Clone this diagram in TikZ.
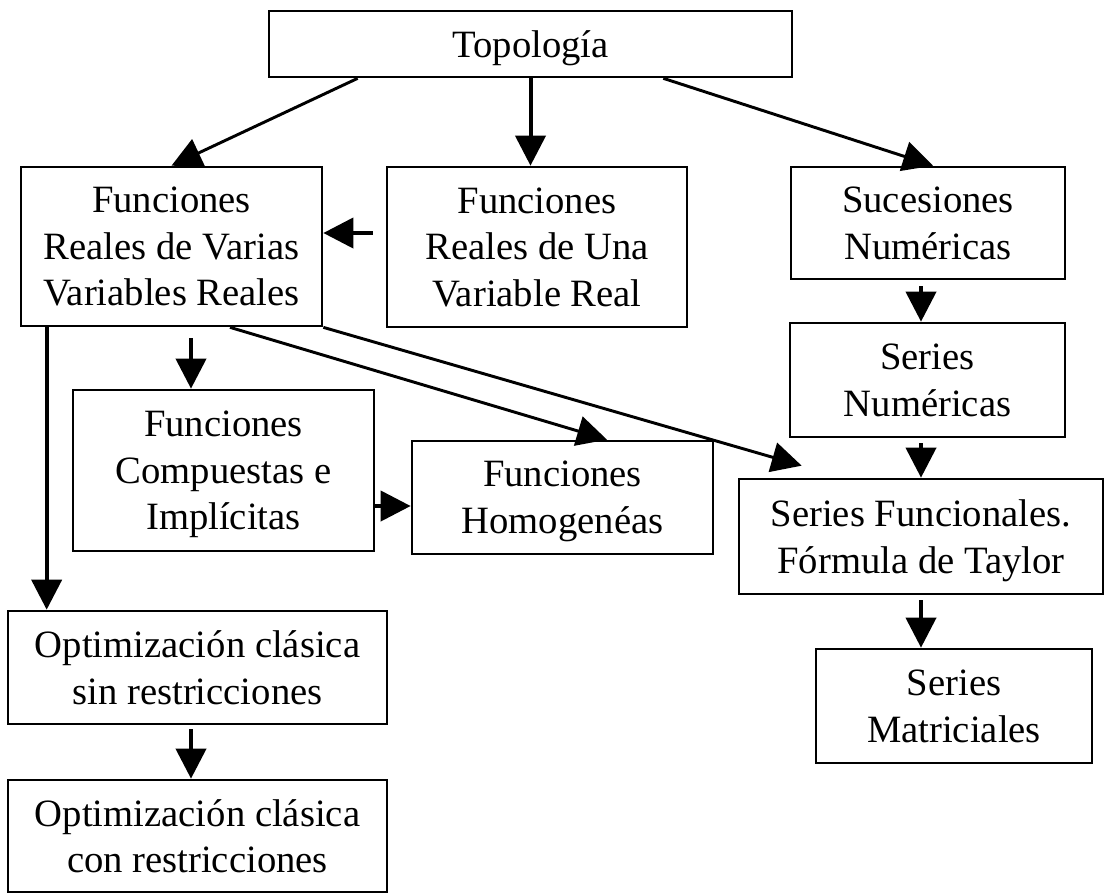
\documentclass[tikz,border=0pt]{standalone}
\usepackage{fontspec}
\setmainfont{Liberation Serif}
\usetikzlibrary{arrows.meta,calc}
\begin{document}
\begin{tikzpicture}[x=0.75pt,y=-0.75pt,
  bx/.style 2 args={draw=black, line width=2pt, rectangle, inner sep=0pt,
    minimum width=#1*0.75pt, minimum height=#2*0.75pt, align=center,
    text depth=0pt, font=\fontsize{29pt}{35pt}\selectfont},
  arrs/.style={line width=3pt, -{Triangle[length=22.5pt,width=22.5pt]}},
  arrd/.style={line width=2.2pt, -{Triangle[length=22.5pt,width=22.5pt]}}]
\useasboundingbox (0,0) rectangle (1109,894);
\fill[white] (0,0) rectangle (1109,894);
% nodes
\node[bx={523}{66}]  (T)  at (530.5,44)   {Topología};
\node[bx={301}{159}] (FV) at (171.5,246.5) {Funciones\\Reales de Varias\\Variables Reales};
\node[bx={300}{160}] (FU) at (537,247)    {Funciones\\Reales de Una\\Variable Real};
\node[bx={274}{112}] (SU) at (928,223)    {Sucesiones\\Numéricas};
\node[bx={275}{114}] (SN) at (927.5,380)  {Series\\Numéricas};
\node[bx={364}{115}] (SF) at (921,536.5)  {Series Funcionales.\\Fórmula de Taylor};
\node[bx={276}{114}] (SM) at (954,706)    {Series\\Matriciales};
\node[bx={301}{161}] (FC) at (223.5,470.5) {Funciones\\Compuestas e\\Implícitas};
\node[bx={301}{113}] (FH) at (562.5,497.5) {Funciones\\Homogenéas};
\node[bx={379}{113}] (OS) at (197.5,667.5) {Optimización clásica\\sin restricciones};
\node[bx={379}{112}] (OC) at (197.5,836)   {Optimización clásica\\con restricciones};
% helper coordinates
\coordinate (a1) at ($(FV.south)+(19.5,0)$);
\coordinate (a2) at ($(FV.south west)+(27,0)$);
\coordinate (a3) at ($(FC.east)+(0,35.5)$);
\coordinate (a4) at ($(OS.south)+(-6.5,0)$);
\coordinate (sfin) at ($(SF.north west)+(64,-12)$);
% connectors
\draw[arrd] ($(T.south west)+(90,0)$) -- (FV.north);
\draw[arrs] (T.south) -- (T.south |- FU.north);
\draw[arrd] ($(T.south east)+(-130,0)$) -- ($(SU.north)+(5,0)$);
\draw[arrs] ($(FU.west)+(-13,-14)$) -- ($(FV.east)+(0,-13.5)$);
\draw[arrs, shorten <=4.5pt] (SU.south -| SF.north) -- (SN.north -| SF.north);
\draw[arrs, shorten <=3.75pt] (SN.south -| SF.north) -- (SF.north);
\draw[arrs, shorten <=3.75pt] (SF.south) -- (SF.south |- SM.north);
\draw[arrs, shorten <=8.25pt] (a1) -- (a1 |- FC.north);
\draw[arrs] (a2) -- (a2 |- OS.north);
\draw[arrd] ($(FV.south)+(58.5,0)$) -- ($(FH.north)+(44.5,0)$);
\draw[arrd] (FV.south east) -- (sfin);
\draw[arrs] (a3) -- (a3 -| FH.west);
\draw[arrs, shorten <=3pt] (a4) -- (a4 |- OC.north);
\end{tikzpicture}
\end{document}
